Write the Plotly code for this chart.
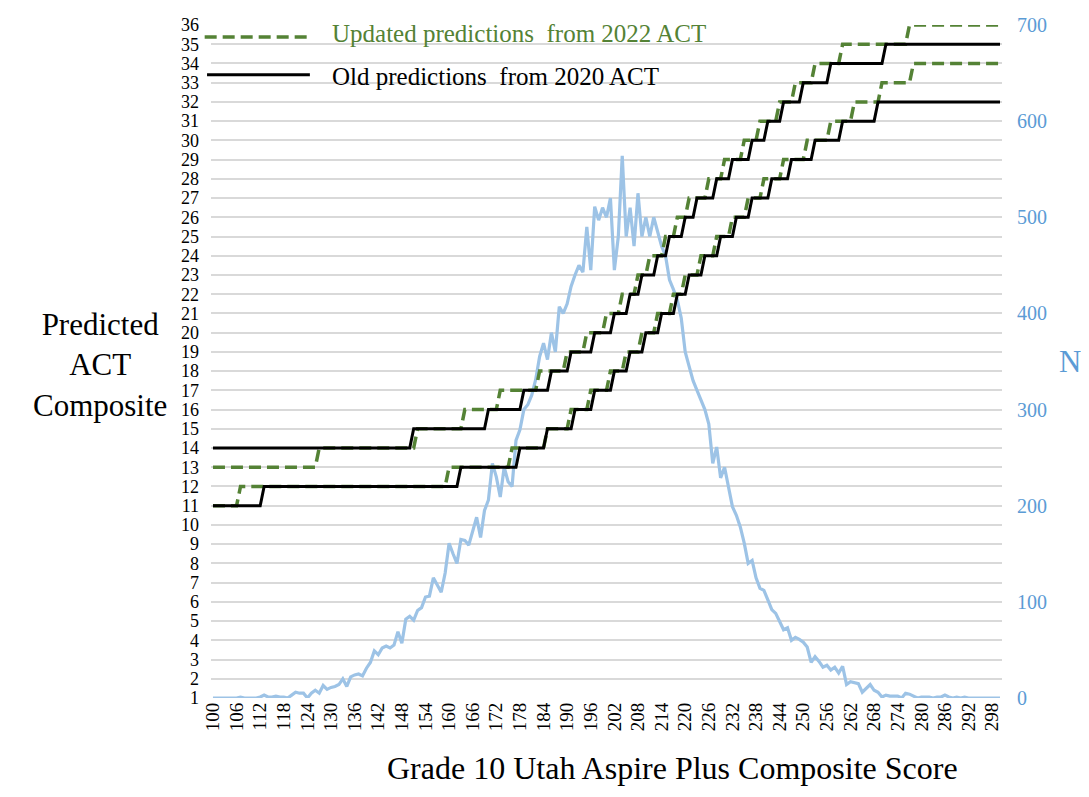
import plotly.graph_objects as go

# Grade 10 Utah Aspire Plus composite scores (categories)
scores = list(range(100, 301))

# First score at which each predicted ACT level begins
old_upper_levels = list(range(14, 36))
old_upper_starts = [100, 151, 170, 179, 186, 191, 197, 202, 206, 209, 213,
                    216, 220, 223, 228, 232, 237, 241, 245, 250, 257, 271]

old_lower_levels = list(range(11, 33))
old_lower_starts = [100, 113, 163, 178, 185, 192, 197, 202, 206, 210, 214,
                    218, 221, 225, 229, 233, 237, 242, 247, 253, 260, 269]

new_upper_levels = list(range(13, 37))
new_upper_starts = [100, 127, 152, 164, 173, 183, 190, 195, 200, 204, 208, 211,
                    215, 218, 221, 226, 230, 235, 239, 244, 248, 253, 260, 277]

new_lower_levels = list(range(11, 35))
new_lower_starts = [100, 107, 160, 176, 185, 191, 196, 201, 205, 209, 213, 217,
                    220, 224, 228, 232, 236, 240, 245, 251, 257, 263, 270, 278]

# Number of students at each score (right axis)
n_count = [
    0, 0, 0, 0, 0, 0, 0, 1, 0, 0,                 # 100-109
    0, 0, 1, 3, 1, 1, 2, 1, 1, 0,                 # 110-119
    3, 6, 5, 5, 0, 5, 8, 5, 13, 9,                # 120-129
    11, 12, 14, 20, 12, 22, 24, 25, 23, 31,       # 130-139
    37, 49, 45, 52, 54, 52, 55, 69, 57, 82,       # 140-149
    85, 81, 91, 94, 105, 106, 125, 118, 110, 130,  # 150-159
    161, 150, 140, 165, 164, 159, 175, 188, 167, 195,  # 160-169
    206, 244, 230, 209, 240, 225, 220, 268, 279, 300,  # 170-179
    305, 315, 331, 355, 369, 352, 380, 360, 407, 400,  # 180-189
    410, 428, 440, 450, 443, 490, 445, 511, 497, 510,  # 190-199
    500, 520, 445, 480, 564, 480, 510, 470, 525, 480,  # 200-209
    500, 480, 500, 485, 470, 460, 435, 425, 414, 395,  # 210-219
    360, 345, 330, 320, 310, 300, 285, 244, 261, 229,  # 220-229
    240, 220, 199, 190, 178, 161, 140, 143, 125, 114,  # 230-239
    112, 102, 92, 88, 80, 71, 73, 60, 63, 61,     # 240-249
    58, 53, 37, 43, 38, 32, 34, 29, 32, 26,       # 250-259
    33, 14, 17, 16, 15, 6, 10, 14, 8, 6,          # 260-269
    1, 3, 2, 2, 2, 0, 5, 4, 2, 0,                 # 270-279
    1, 1, 1, 0, 1, 1, 3, 1, 0, 1,                 # 280-289
    0, 1, 0, 0, 0, 0, 0, 0, 0, 0,                 # 290-299
    0,                                            # 300
]


def expand(starts, levels):
    """Turn step start scores into one predicted value per score."""
    out = []
    for s in scores:
        lvl = levels[0]
        for st, lv in zip(starts, levels):
            if s >= st:
                lvl = lv
        out.append(lvl)
    return out


GREEN = "#548235"
BLUE_LINE = "#9dc3e6"
BLUE_TEXT = "#5b9bd5"
SERIF = "Liberation Serif, Times New Roman, serif"

fig = go.Figure()

# N distribution on the primary (right-side) axis so it sits behind the steps
fig.add_trace(go.Scatter(
    x=scores, y=n_count, mode="lines", yaxis="y",
    line=dict(color=BLUE_LINE, width=3.2), showlegend=False
))

for starts, levels in [(new_upper_starts, new_upper_levels),
                       (new_lower_starts, new_lower_levels)]:
    fig.add_trace(go.Scatter(
        x=scores, y=expand(starts, levels), mode="lines", yaxis="y2",
        line=dict(color=GREEN, width=3.5, dash="12px,6px"), showlegend=False
    ))

for starts, levels in [(old_upper_starts, old_upper_levels),
                       (old_lower_starts, old_lower_levels)]:
    fig.add_trace(go.Scatter(
        x=scores, y=expand(starts, levels), mode="lines", yaxis="y2",
        line=dict(color="black", width=3), showlegend=False
    ))

fig.update_layout(
    width=1081, height=789,
    margin=dict(l=203, r=87, t=17, b=99),
    paper_bgcolor="white", plot_bgcolor="white",
    font=dict(family=SERIF, color="black"),
    xaxis=dict(
        range=[99.5, 300.5], tickmode="array",
        tickvals=list(range(100, 301, 6)),
        tickangle=-90, tickfont=dict(size=19, family=SERIF),
        showgrid=False, zeroline=False, showline=False, ticks="",
        automargin=False,
    ),
    yaxis=dict(
        side="right", range=[0, 700], dtick=100,
        tickfont=dict(size=20, family=SERIF, color=BLUE_TEXT),
        showgrid=True, gridcolor="#d9d9d9", gridwidth=1.5,
        minor=dict(dtick=20, showgrid=True, gridcolor="#d9d9d9", gridwidth=1.5),
        zeroline=False, showline=False, ticks="", ticklabelstandoff=14,
        automargin=False,
    ),
    yaxis2=dict(
        overlaying="y", side="left", range=[1, 36], dtick=1,
        tickfont=dict(size=18, family=SERIF),
        showgrid=False, zeroline=False, showline=False, ticks="",
        ticklabelstandoff=11, automargin=False,
    ),
    showlegend=False,
)

# Axis titles
fig.add_annotation(
    text="Predicted<br>ACT<br>Composite", xref="paper", yref="paper",
    x=-0.14, y=0.495, xanchor="center", yanchor="middle", showarrow=False,
    align="center", font=dict(size=31, family=SERIF, color="black")
)
fig.add_annotation(
    text="N", xref="paper", yref="paper", x=1.086, y=0.5,
    xanchor="center", yanchor="middle", showarrow=False,
    font=dict(size=31, family=SERIF, color=BLUE_TEXT)
)
fig.add_annotation(
    text="Grade 10 Utah Aspire Plus Composite Score", xref="paper",
    yref="paper", x=0.583, y=-0.104, xanchor="center", yanchor="middle",
    showarrow=False, font=dict(size=32, family=SERIF, color="black")
)

# Legend drawn inside the plot area
fig.add_shape(type="line", xref="paper", yref="paper",
              x0=-0.008, x1=0.124, y0=0.982, y1=0.982,
              line=dict(color=GREEN, width=3.5, dash="12px,6px"))
fig.add_shape(type="line", xref="paper", yref="paper",
              x0=-0.005, x1=0.125, y0=0.926, y1=0.926,
              line=dict(color="black", width=3))
fig.add_annotation(
    text="Updated predictions  from 2022 ACT", xref="paper", yref="paper",
    x=0.15, y=0.988, xanchor="left", yanchor="middle", showarrow=False,
    font=dict(size=25, family=SERIF, color=GREEN)
)
fig.add_annotation(
    text="Old predictions  from 2020 ACT", xref="paper", yref="paper",
    x=0.15, y=0.923, xanchor="left", yanchor="middle", showarrow=False,
    font=dict(size=25, family=SERIF, color="black")
)

fig.write_html("out.html")
